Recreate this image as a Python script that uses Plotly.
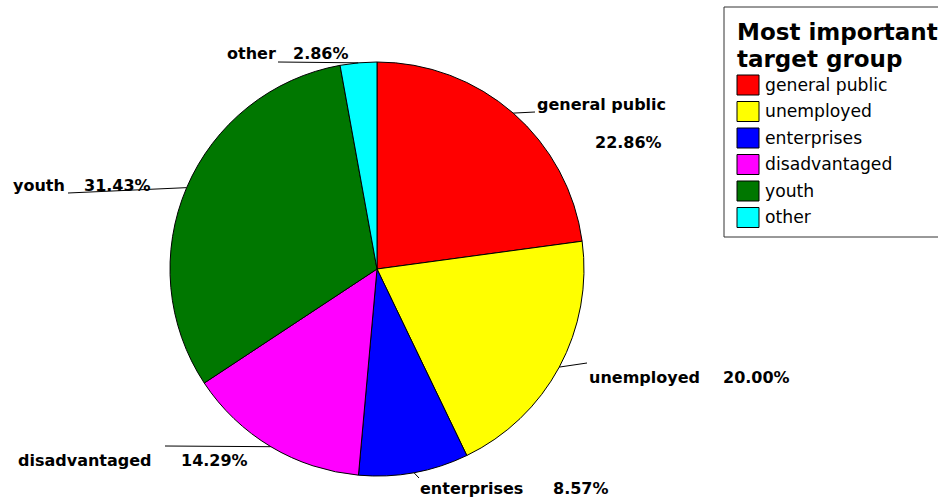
import plotly.graph_objects as go
import math

# ---- data ----
categories = ["general public", "unemployed", "enterprises", "disadvantaged", "youth", "other"]
counts = [8, 7, 3, 5, 11, 1]
colors = ["#ff0000", "#ffff00", "#0000ff", "#ff00ff", "#007700", "#00ffff"]
legend_title = ["Most important", "target group"]

W, H = 938, 499
CX, CY, R = 377, 269, 207  # pie centre / radius in px (layout)

def px(x):
    return x / W

def py(y):
    return 1 - y / H

total = sum(counts)
pcts = [c / total * 100 for c in counts]

fig = go.Figure()
fig.add_trace(go.Pie(
    labels=categories, values=counts, sort=False, direction="clockwise", rotation=0,
    marker=dict(colors=colors, line=dict(color="black", width=1)),
    textinfo="none", hoverinfo="label+percent", showlegend=False,
    domain=dict(x=[px(CX - R), px(CX + R)], y=[py(CY + R), py(CY - R)]),
))

# label layout: leader end (px), name pos (x, y, anchor), pct pos (x, y, anchor)
label_layout = [
    dict(end=(535, 112), name=(535, 104, "left"), pct=(593, 143, "left")),
    dict(end=(587, 363), name=(587, 377, "left"), pct=(721, 377, "left")),
    dict(end=(419, 478), name=(418, 488, "left"), pct=(551, 488, "left")),
    dict(end=(165, 446), name=(16, 460, "left"), pct=(179, 460, "left")),
    dict(end=(68, 193), name=(11, 185, "left"), pct=(82, 185, "left")),
    dict(end=(278, 62), name=(225, 53, "left"), pct=(291, 53, "left")),
]

shapes = []
annotations = []
lab_font = dict(family="DejaVu Sans", size=16, color="black")
cum = 0
for cat, c, p, lay in zip(categories, counts, pcts, label_layout):
    mid = (cum + c / 2) / total * 2 * math.pi
    cum += c
    ex = CX + R * math.sin(mid)
    ey = CY - R * math.cos(mid)
    shapes.append(dict(type="line", xref="paper", yref="paper",
                       x0=px(ex), y0=py(ey), x1=px(lay["end"][0]), y1=py(lay["end"][1]),
                       line=dict(color="black", width=1)))
    nx, ny, na = lay["name"]
    annotations.append(dict(text=f"<b>{cat}</b>", x=px(nx), y=py(ny), xref="paper", yref="paper",
                            xanchor=na, yanchor="middle", showarrow=False, font=lab_font))
    qx, qy, qa = lay["pct"]
    annotations.append(dict(text=f"<b>{p:.2f}%</b>", x=px(qx), y=py(qy), xref="paper", yref="paper",
                            xanchor=qa, yanchor="middle", showarrow=False, font=lab_font))

# custom legend
LX0, LY0, LX1, LY1 = 724, 7, 960, 237
shapes.append(dict(type="rect", xref="paper", yref="paper", x0=px(LX0), y0=py(LY1), x1=px(LX1), y1=py(LY0),
                   line=dict(color="#333333", width=1), fillcolor="white", layer="below"))
for i, t in enumerate(legend_title):
    annotations.append(dict(text=f"<b>{t}</b>", x=px(735), y=py(32 + 27 * i), xref="paper", yref="paper",
                            xanchor="left", yanchor="middle", showarrow=False,
                            font=dict(family="DejaVu Sans", size=23, color="black")))
for i, (cat, col) in enumerate(zip(categories, colors)):
    yc = 85 + 26.5 * i
    shapes.append(dict(type="rect", xref="paper", yref="paper", x0=px(737), x1=px(759),
                       y0=py(yc + 10), y1=py(yc - 10), fillcolor=col, line=dict(color="black", width=1)))
    annotations.append(dict(text=cat, x=px(763), y=py(yc), xref="paper", yref="paper",
                            xanchor="left", yanchor="middle", showarrow=False,
                            font=dict(family="DejaVu Sans", size=17.2, color="black")))

fig.update_layout(
    width=W, height=H, margin=dict(l=0, r=0, t=0, b=0),
    paper_bgcolor="white", plot_bgcolor="white",
    shapes=shapes, annotations=annotations, showlegend=False,
)
fig.write_html("out.html")
